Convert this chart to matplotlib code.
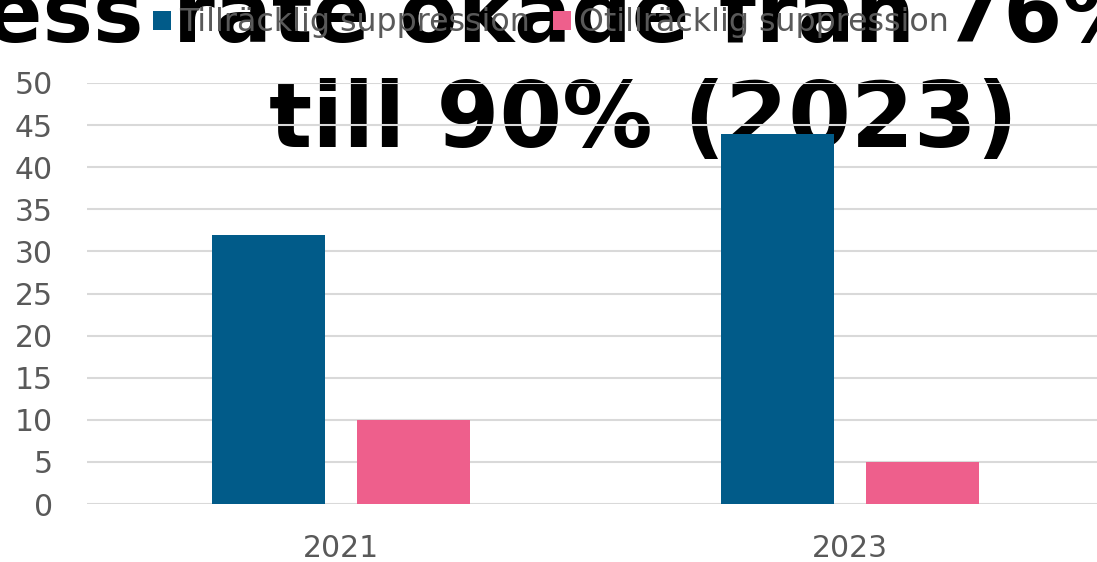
import matplotlib.pyplot as plt
import numpy as np

# data
years = ["2021", "2023"]
tillracklig = [32, 44]
otillracklig = [10, 5]
series_labels = ["Tillräcklig suppression", "Otillräcklig suppression"]
title_lines = ["Success rate ökade från 76%", "till 90% (2023)"]

blue = "#015b89"
pink = "#ee5f8c"
grey_txt = "#595959"

W, H = 1097, 562
fig = plt.figure(figsize=(W / 100, H / 100), dpi=100)
# axes runs a bit past the right edge, like the reference
ax = fig.add_axes([87 / W, 1 - 504 / H, (1104 - 87) / W, (504 - 83) / H])
ax.set_facecolor("none")

x = np.arange(len(years))
w = 0.222
off = 0.1425
b1 = ax.bar(x - off, tillracklig, w, color=blue, label=series_labels[0], zorder=2)
b2 = ax.bar(x + off, otillracklig, w, color=pink, label=series_labels[1], zorder=2)

ax.set_xlim(-0.5, 1.5)
ax.set_ylim(0, 50)
ax.set_yticks(range(0, 51, 5))
ax.set_xticks(x)
ax.set_xticklabels(years)
ax.yaxis.grid(True, color="#d9d9d9", linewidth=1.5, zorder=0)
ax.set_axisbelow(True)
for s in ax.spines.values():
    s.set_visible(False)
ax.tick_params(axis="both", length=0, labelsize=21.5, labelcolor=grey_txt)
ax.tick_params(axis="y", pad=24.5)
ax.tick_params(axis="x", pad=21.5)

# big title sits behind the axes (gridlines and bars draw over it);
# first line runs off both edges of the figure
fig.text(1147 / W, 1 - 42 / H, title_lines[0], ha="right", va="baseline",
         fontsize=61, fontweight="bold", color="black", zorder=-1)
fig.text(643 / W, 1 - 147 / H, title_lines[1], ha="center", va="baseline",
         fontsize=65, fontweight="bold", color="black", zorder=-1)

leg = fig.legend(handles=[b1, b2], loc="center", bbox_to_anchor=(0.502, 1 - 23 / H),
                 ncol=2, frameon=False, fontsize=22.8, handlelength=0.57,
                 handleheight=0.57, handletextpad=0.25, columnspacing=0.73,
                 borderaxespad=0, borderpad=0)
for t in leg.get_texts():
    t.set_color(grey_txt)
leg.set_zorder(5)

fig.savefig("out.png", dpi=100)
